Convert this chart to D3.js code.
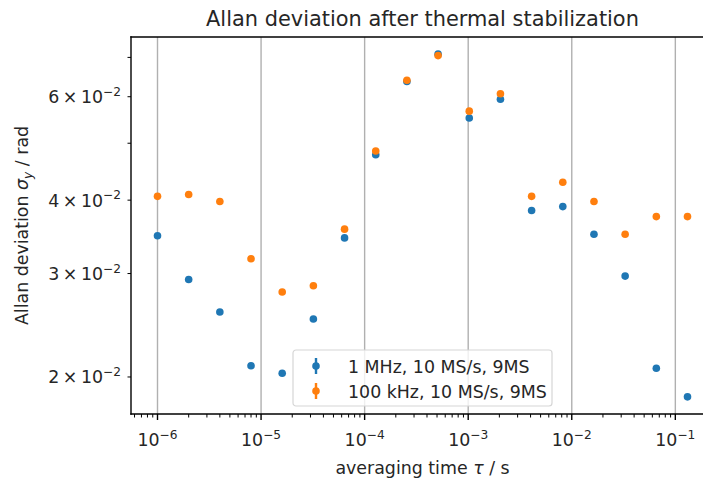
<!DOCTYPE html>
<html>
<head>
<meta charset="utf-8">
<script src="https://cdn.jsdelivr.net/npm/d3@7"></script>
<style>
  body { margin: 0; background: #fff; }
  svg { font-family: "DejaVu Sans", sans-serif; }
</style>
</head>
<body>
<svg id="chart" width="703" height="480"></svg>
<script>
// averaging times (s)
var tau = [1e-6, 2e-6, 4e-6, 8e-6, 1.6e-5, 3.2e-5, 6.4e-5, 1.28e-4, 2.56e-4, 5.12e-4,
           1.024e-3, 2.048e-3, 4.096e-3, 8.192e-3, 1.6384e-2, 3.2768e-2, 6.5536e-2, 1.31072e-1];

// Allan deviation (rad)
var dev1MHz = [0.0348, 0.0293, 0.0258, 0.0209, 0.0203, 0.0251, 0.0345, 0.0478, 0.0637, 0.0709,
               0.0552, 0.0594, 0.0384, 0.0390, 0.0350, 0.0297, 0.0207, 0.0185];
var dev100kHz = [0.0406, 0.0409, 0.0398, 0.0318, 0.0279, 0.0286, 0.0357, 0.0485, 0.0640, 0.0705,
                 0.0567, 0.0607, 0.0406, 0.0429, 0.0398, 0.0350, 0.0375, 0.0375];

var seriesNames = ["1 MHz, 10 MS/s, 9MS", "100 kHz, 10 MS/s, 9MS"];
var seriesColors = ["#1f77b4", "#ff7f0e"];

var xMajor = [1e-6, 1e-5, 1e-4, 1e-3, 1e-2, 1e-1];
var yLabeled = [0.02, 0.03, 0.04, 0.06];
var yMinor = [0.02, 0.03, 0.04, 0.05, 0.06, 0.07];

var svg = d3.select("#chart");
var pLeft = 131, pRight = 714, pTop = 37, pBottom = 414;
var fs = 17.4, sup = 12.2, ink = "#262626";

// log-space domains with 5% padding, like matplotlib autoscale
function padLog(vals) {
  var lo = Math.log10(d3.min(vals)), hi = Math.log10(d3.max(vals));
  var m = (hi - lo) * 0.05;
  return [Math.pow(10, lo - m), Math.pow(10, hi + m)];
}

var x = d3.scaleLog().domain(padLog(tau)).range([pLeft, pRight]);
var y = d3.scaleLog().domain(padLog(dev1MHz.concat(dev100kHz))).range([pBottom, pTop]);

svg.append("defs").append("clipPath").attr("id", "plotclip")
  .append("rect").attr("x", pLeft).attr("y", pTop)
  .attr("width", pRight - pLeft).attr("height", pBottom - pTop);

// vertical grid at major x ticks
svg.append("g").selectAll("line").data(xMajor).enter().append("line")
  .attr("x1", d => x(d)).attr("x2", d => x(d))
  .attr("y1", pTop).attr("y2", pBottom)
  .attr("stroke", "#b0b0b0").attr("stroke-width", 1.4);

// minor x ticks
var xMinor = [];
d3.range(-7, 0).forEach(function(e) {
  d3.range(2, 10).forEach(function(m) {
    var v = m * Math.pow(10, e);
    if (v > x.domain()[0] && v < x.domain()[1]) xMinor.push(v);
  });
});
svg.append("g").selectAll("line").data(xMinor).enter().append("line")
  .attr("x1", d => x(d)).attr("x2", d => x(d))
  .attr("y1", pBottom).attr("y2", pBottom + 3.5)
  .attr("stroke", "#000").attr("stroke-width", 1);

// major x ticks + labels
var gx = svg.append("g");
gx.selectAll("line").data(xMajor).enter().append("line")
  .attr("x1", d => x(d)).attr("x2", d => x(d))
  .attr("y1", pBottom).attr("y2", pBottom + 6)
  .attr("stroke", "#000").attr("stroke-width", 1.4);
var xt = gx.selectAll("text").data(xMajor).enter().append("text")
  .attr("x", d => x(d)).attr("y", 446)
  .attr("text-anchor", "middle").attr("font-size", fs).attr("fill", ink);
xt.append("tspan").text("10");
xt.append("tspan").attr("dy", -7.5).attr("font-size", sup)
  .text(d => "\u2212" + Math.round(-Math.log10(d)));

// y ticks (all minor in matplotlib sense)
var gy = svg.append("g");
gy.selectAll("line").data(yMinor).enter().append("line")
  .attr("x1", pLeft - 3.5).attr("x2", pLeft)
  .attr("y1", d => y(d)).attr("y2", d => y(d))
  .attr("stroke", "#000").attr("stroke-width", 1);
var yt = gy.selectAll("text").data(yLabeled).enter().append("text")
  .attr("x", pLeft - 10).attr("y", d => y(d) + 6.5)
  .attr("text-anchor", "end").attr("font-size", fs).attr("fill", ink);
yt.append("tspan").text(d => Math.round(d * 100) + "\u2009\u00d7\u200910");
yt.append("tspan").attr("dy", -7.5).attr("font-size", sup).text("\u22122");

// data points
var pts = svg.append("g").attr("clip-path", "url(#plotclip)");
[dev1MHz, dev100kHz].forEach(function(series, k) {
  pts.append("g").selectAll("circle").data(series).enter().append("circle")
    .attr("cx", (d, i) => x(tau[i]))
    .attr("cy", d => y(d))
    .attr("r", 3.8)
    .attr("fill", seriesColors[k]);
});

// spines (right spine falls outside the picture)
[[pLeft, pTop, pLeft, pBottom], [pLeft, pBottom, pRight, pBottom],
 [pLeft, pTop, pRight, pTop], [pRight, pTop, pRight, pBottom]].forEach(function(s) {
  svg.append("line").attr("x1", s[0]).attr("y1", s[1]).attr("x2", s[2]).attr("y2", s[3])
    .attr("stroke", "#000").attr("stroke-width", 1.4).attr("stroke-linecap", "square");
});

// legend
var lg = svg.append("g").attr("transform", "translate(293,350)");
lg.append("rect").attr("width", 259).attr("height", 56).attr("rx", 3)
  .attr("fill", "#fff").attr("fill-opacity", 0.8)
  .attr("stroke", "#d6d6d6").attr("stroke-width", 1.2);
seriesNames.forEach(function(name, k) {
  var cy = 16 + k * 25;
  lg.append("line").attr("x1", 23).attr("x2", 23).attr("y1", cy - 8).attr("y2", cy + 8)
    .attr("stroke", seriesColors[k]).attr("stroke-width", 2.4);
  lg.append("circle").attr("cx", 23).attr("cy", cy).attr("r", 3.8).attr("fill", seriesColors[k]);
  lg.append("text").attr("x", 55).attr("y", cy + 6.5).attr("font-size", fs)
    .attr("fill", ink).text(name);
});

// title and axis labels
svg.append("text").attr("x", (pLeft + pRight) / 2).attr("y", 26)
  .attr("text-anchor", "middle").attr("font-size", 20.9).attr("fill", ink)
  .text("Allan deviation after thermal stabilization");

var xl = svg.append("text").attr("x", (pLeft + pRight) / 2).attr("y", 474)
  .attr("text-anchor", "middle").attr("font-size", fs).attr("fill", ink);
xl.append("tspan").text("averaging time ");
xl.append("tspan").attr("font-style", "italic").text("\u03c4");
xl.append("tspan").text(" / s");

var yl = svg.append("text").attr("transform", "translate(28," + (pTop + pBottom) / 2 + ") rotate(-90)")
  .attr("text-anchor", "middle").attr("font-size", fs).attr("fill", ink);
yl.append("tspan").text("Allan deviation ");
yl.append("tspan").attr("font-style", "italic").text("\u03c3");
yl.append("tspan").attr("font-style", "italic").attr("font-size", sup).attr("dy", 3.5).text("y");
yl.append("tspan").attr("dy", -3.5).text(" / rad");
</script>
</body>
</html>
